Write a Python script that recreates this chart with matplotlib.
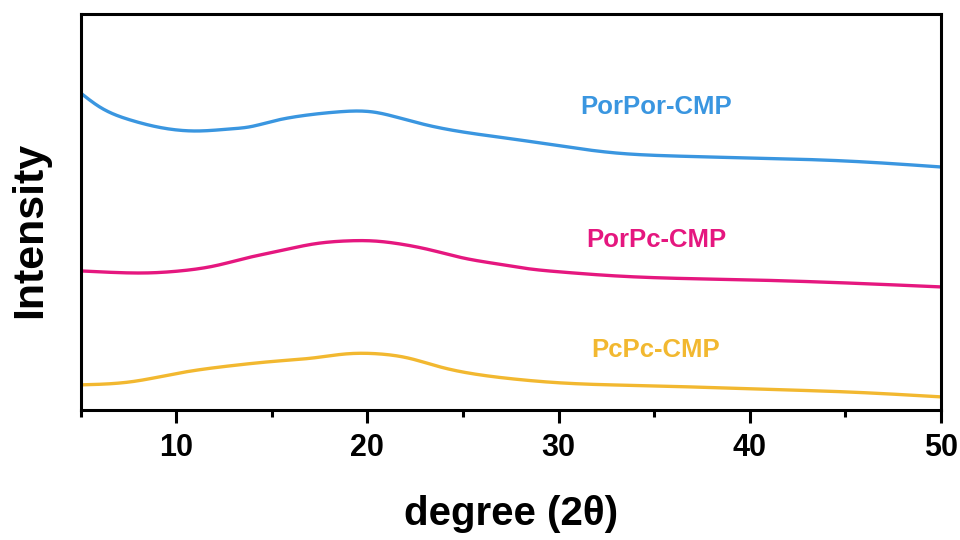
import numpy as np
import matplotlib
matplotlib.use('Agg')
import matplotlib.pyplot as plt
from matplotlib.ticker import MultipleLocator

plt.rcParams['font.family'] = ['Liberation Sans', 'DejaVu Sans']
plt.rcParams['font.weight'] = 'bold'

# offset intensities (arbitrary units)
x_porpor = [5, 6.0, 7.6, 9.3, 11.1, 12.8, 13.8, 15.1, 16.5, 18.4, 20.3, 21.5, 23.1, 25.0, 27.6, 30.1, 33, 36, 40, 45, 50]
y_porpor = [317, 303, 290, 282, 279, 281, 283, 289, 294, 298, 298, 293, 285, 278, 271, 264, 257, 254, 252, 249, 243]

x_porpc = [5, 6.7, 8.5, 10.2, 12.0, 13.7, 15.4, 17.2, 18.9, 20.3, 21.7, 23.3, 25.0, 26.8, 28.5, 30.1, 33, 40, 45, 50]
y_porpc = [139, 137.5, 137, 139, 144, 152, 159, 166, 169, 169, 166, 160, 152, 146, 141, 138, 134, 130, 127, 123]

x_pcpc = [5, 7.6, 10.2, 12.8, 15.4, 17.2, 18.9, 20.6, 22.1, 23.8, 25.9, 27.6, 30.1, 35, 40, 45, 50]
y_pcpc = [25, 28, 37, 44, 49, 52, 56, 56, 52, 43, 35, 31, 27, 24, 21, 18, 13]

names = ['PorPor-CMP', 'PorPc-CMP', 'PcPc-CMP']
colors = ['#3a96e0', '#e5177f', '#f2b830']
label_x = 35.1
label_y = [303, 170, 60]


def spline(x, y, n=600):
    # natural cubic spline through the read points
    x = np.asarray(x, float)
    y = np.asarray(y, float)
    m = len(x)
    h = np.diff(x)
    A = np.zeros((m, m))
    r = np.zeros(m)
    A[0, 0] = A[-1, -1] = 1
    for i in range(1, m - 1):
        A[i, i - 1] = h[i - 1]
        A[i, i] = 2 * (h[i - 1] + h[i])
        A[i, i + 1] = h[i]
        r[i] = 6 * ((y[i + 1] - y[i]) / h[i] - (y[i] - y[i - 1]) / h[i - 1])
    M = np.linalg.solve(A, r)
    xs = np.linspace(x[0], x[-1], n)
    k = np.clip(np.searchsorted(x, xs) - 1, 0, m - 2)
    t0 = x[k + 1] - xs
    t1 = xs - x[k]
    hk = h[k]
    ys = (M[k] * t0 ** 3 / (6 * hk) + M[k + 1] * t1 ** 3 / (6 * hk)
          + (y[k] / hk - M[k] * hk / 6) * t0 + (y[k + 1] / hk - M[k + 1] * hk / 6) * t1)
    return xs, ys


fig = plt.figure(figsize=(9.6, 5.4), dpi=100)
ax = fig.add_axes([0.084, 0.241, 0.896, 0.733])

series = [(x_porpor, y_porpor), (x_porpc, y_porpc), (x_pcpc, y_pcpc)]
for (xx, yy), name, c, ly in zip(series, names, colors, label_y):
    sx, sy = spline(xx, yy)
    ax.plot(sx, sy, color=c, lw=2.4)
    ax.text(label_x, ly, name, color=c, fontsize=18.5, fontweight='bold',
            ha='center', va='center')

ax.set_xlim(5, 50)
ax.set_ylim(0, 396)
ax.xaxis.set_major_locator(MultipleLocator(10))
ax.xaxis.set_minor_locator(MultipleLocator(5))
ax.set_yticks([])
ax.tick_params(axis='x', which='major', direction='out', length=9, width=2.2,
               labelsize=22, pad=8)
ax.tick_params(axis='x', which='minor', direction='out', length=5, width=2.2)
for lbl in ax.get_xticklabels():
    lbl.set_fontweight('bold')
for s in ax.spines.values():
    s.set_linewidth(2.2)

ax.set_xlabel('degree (2θ)', fontsize=29, fontweight='bold')
ax.set_ylabel('Intensity', fontsize=31, fontweight='bold')
ax.xaxis.set_label_coords(0.5, -0.215)
ax.yaxis.set_label_coords(-0.035, 0.455)

fig.savefig('out.png', dpi=100)
